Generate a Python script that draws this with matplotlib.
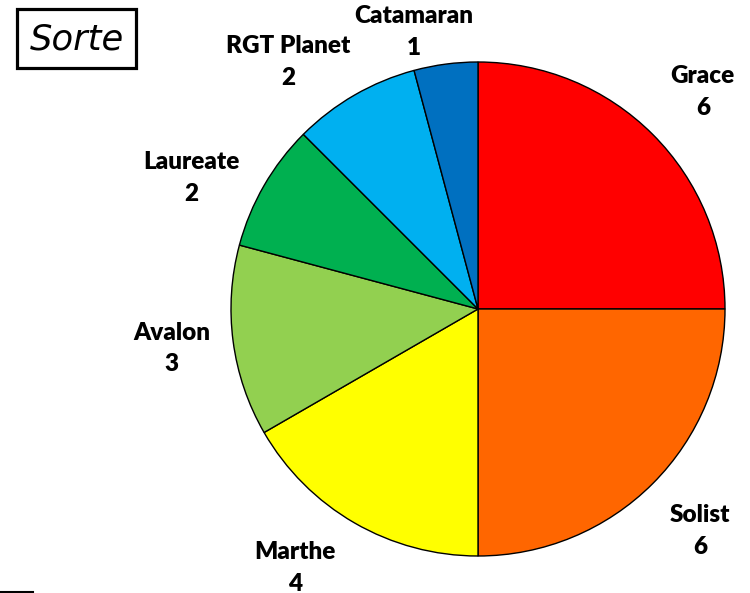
import matplotlib
matplotlib.use("Agg")
import matplotlib.pyplot as plt
from matplotlib.lines import Line2D
from matplotlib.patches import Rectangle

# data
varieties = ["Grace", "Solist", "Marthe", "Avalon", "Laureate", "RGT Planet", "Catamaran"]
counts = [6, 6, 4, 3, 2, 2, 1]
colors = ["#FF0000", "#FF6600", "#FFFF00", "#92D050", "#00B050", "#00B0F0", "#0070C0"]

# label positions in units of pie radius (Excel placed them by hand-ish)
label_pos = [(0.91, 0.88), (0.90, -0.90), (-0.74, -1.05), (-1.24, -0.16),
             (-1.16, 0.53), (-0.77, 1.00), (-0.26, 1.12)]

fig = plt.figure(figsize=(7.5, 5.93), dpi=100)
ax = fig.add_axes([0, 0, 1, 1])

cx, cy, r = 478, 593 - 309, 247
ax.pie(counts, colors=colors, startangle=90, counterclock=False,
       center=(cx, cy), radius=r, frame=True,
       wedgeprops=dict(edgecolor="black", linewidth=1.0))
ax.set_xlim(0, 750)
ax.set_ylim(0, 593)
ax.set_aspect("equal")
ax.axis("off")

for name, n, (lx, ly) in zip(varieties, counts, label_pos):
    ax.text(cx + lx * r, cy + ly * r, f"{name}\n{n}", ha="center", va="center",
            fontsize=17.5, fontweight="heavy", family="Lato", linespacing=1.55)

# title box
fig.add_artist(Rectangle((17 / 750, 1 - 68 / 593), 119 / 750, 59 / 593,
                         transform=fig.transFigure, facecolor="white",
                         edgecolor="black", linewidth=2.3))
fig.text(77 / 750, 1 - 40 / 593, "Sorte", ha="center", va="center",
         fontsize=25.5, style="italic", family="DejaVu Sans")

fig.add_artist(Line2D([0, 33 / 750], [1 / 593, 1 / 593], color="black", linewidth=1.5))

fig.savefig("out.png", dpi=100)
